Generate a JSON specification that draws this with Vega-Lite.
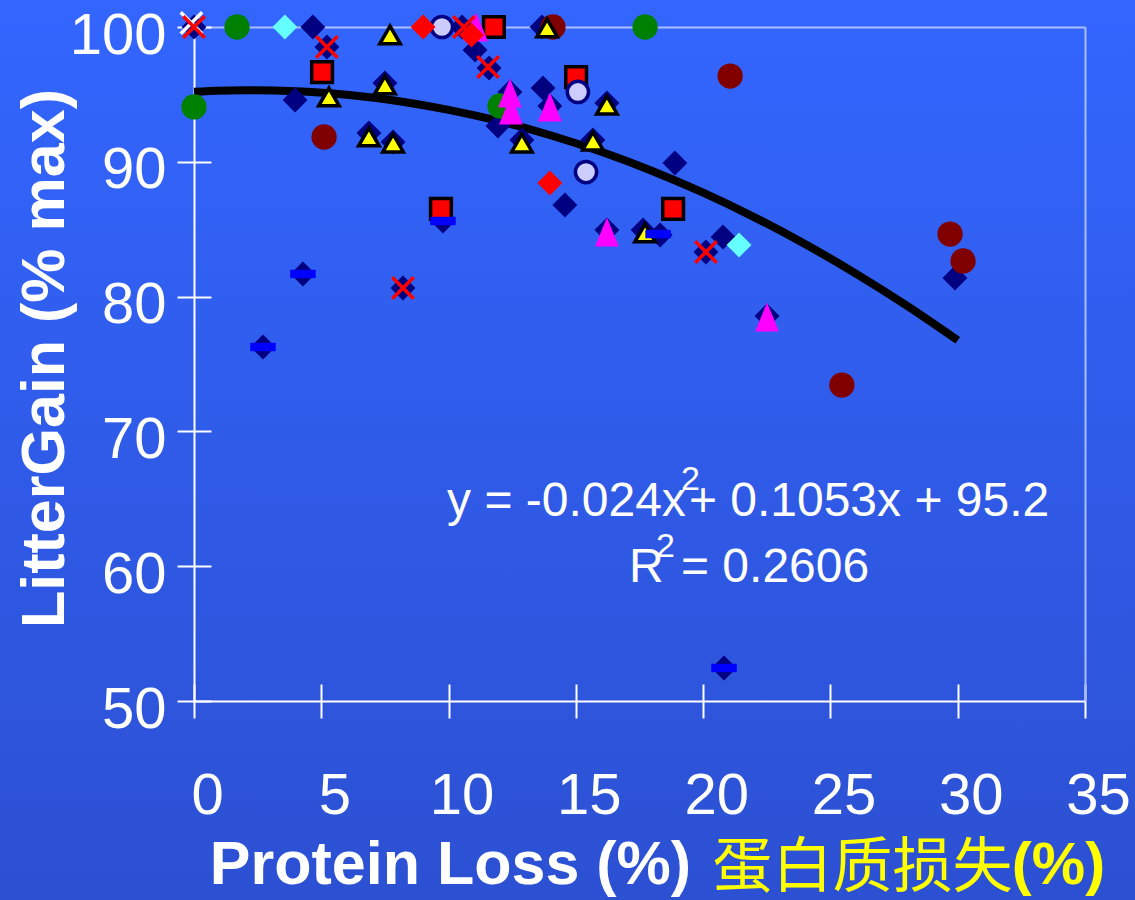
{
  "$schema": "https://vega.github.io/schema/vega-lite/v6.json",
  "width": 1135,
  "height": 900,
  "autosize": {"type": "none"},
  "padding": 0,
  "background": "#2F5BE8",
  "config": {
    "view": {
      "stroke": null,
      "fill": {"gradient": "linear", "x1": 0, "y1": 0, "x2": 0, "y2": 1,
        "stops": [{"offset": 0, "color": "#3366FF"}, {"offset": 1, "color": "#2C50D2"}]}
    }
  },
  "resolve": {"axis": {"x": "independent", "y": "independent"}},
  "layer": [
    {
      "data": {"values": [
        {"x": 0, "y": 95.2}, {"x": 2, "y": 95.31}, {"x": 4, "y": 95.24}, {"x": 6, "y": 94.97},
        {"x": 8, "y": 94.51}, {"x": 10, "y": 93.85}, {"x": 12, "y": 93.01}, {"x": 14, "y": 91.97},
        {"x": 16, "y": 90.74}, {"x": 18, "y": 89.32}, {"x": 20, "y": 87.71}, {"x": 22, "y": 85.9},
        {"x": 24, "y": 83.9}, {"x": 26, "y": 81.71}, {"x": 28, "y": 79.33}, {"x": 30, "y": 76.76}
      ]},
      "mark": {"type": "line", "color": "#000000", "strokeWidth": 8, "interpolate": "monotone", "strokeCap": "butt"},
      "encoding": {
        "x": {"field": "x", "type": "quantitative",
          "scale": {"domain": [0, 35], "range": [194, 1085], "nice": false, "zero": false},
          "axis": {"orient": "bottom", "offset": -199, "values": [0, 5, 10, 15, 20, 25, 30, 35],
            "domain": false, "ticks": true, "tickSize": -17, "tickColor": "#FFFFFF", "tickWidth": 2,
            "labels": false, "grid": false,
            "title": "蛋白质损失", "titleFont": "Noto Sans CJK SC", "titleFontSize": 60, "titleFontWeight": "normal",
            "titleColor": "#FFFF00", "titleX": 862, "titleY": 185, "titleAlign": "center", "titleBaseline": "alphabetic"}},
        "y": {"field": "y", "type": "quantitative",
          "scale": {"domain": [50, 100], "range": [701, 27], "nice": false, "zero": false},
          "axis": {"orient": "left", "offset": -194, "values": [50, 60, 70, 80, 90, 100],
            "domain": false, "ticks": true, "tickSize": -17, "tickColor": "#FFFFFF", "tickWidth": 2,
            "labels": false, "grid": false, "title": null}}
      }
    },
    {
      "data": {"values": [
        {"s": "navy", "x": 0, "y": 100}, {"s": "navy", "x": 4.67, "y": 100}, {"s": "navy", "x": 5.22, "y": 98.52},
        {"s": "navy", "x": 3.97, "y": 94.58}, {"s": "navy", "x": 7.5, "y": 95.85}, {"s": "navy", "x": 6.87, "y": 92.14},
        {"s": "navy", "x": 7.82, "y": 91.47}, {"s": "navy", "x": 10.53, "y": 100}, {"s": "navy", "x": 11.04, "y": 98.29},
        {"s": "navy", "x": 11.59, "y": 96.96}, {"s": "navy", "x": 11.94, "y": 92.66}, {"s": "navy", "x": 12.41, "y": 95.18},
        {"s": "navy", "x": 13.71, "y": 95.47}, {"s": "navy", "x": 13.98, "y": 94.14}, {"s": "navy", "x": 12.88, "y": 91.62},
        {"s": "navy", "x": 15.67, "y": 91.62}, {"s": "navy", "x": 14.57, "y": 86.8}, {"s": "navy", "x": 18.89, "y": 89.91},
        {"s": "navy", "x": 16.22, "y": 84.94}, {"s": "navy", "x": 17.64, "y": 84.94}, {"s": "navy", "x": 18.31, "y": 84.57},
        {"s": "navy", "x": 20.78, "y": 84.42}, {"s": "navy", "x": 20.11, "y": 83.31}, {"s": "navy", "x": 22.51, "y": 78.56},
        {"s": "navy", "x": 29.89, "y": 81.38}, {"s": "navy", "x": 2.71, "y": 76.26}, {"s": "navy", "x": 4.28, "y": 81.68},
        {"s": "navy", "x": 9.78, "y": 85.61}, {"s": "navy", "x": 20.82, "y": 52.45}, {"s": "navy", "x": 8.21, "y": 80.64},
        {"s": "navy", "x": 16.22, "y": 94.36}, {"s": "navy", "x": 13.67, "y": 100},
        {"s": "green", "x": 1.69, "y": 100}, {"s": "green", "x": 0, "y": 94.07}, {"s": "green", "x": 17.72, "y": 100},
        {"s": "green", "x": 12.02, "y": 94.14},
        {"s": "darkred", "x": 5.11, "y": 91.84}, {"s": "darkred", "x": 14.1, "y": 100}, {"s": "darkred", "x": 21.06, "y": 96.36},
        {"s": "darkred", "x": 29.7, "y": 84.64}, {"s": "darkred", "x": 30.21, "y": 82.64}, {"s": "darkred", "x": 25.45, "y": 73.44},
        {"s": "cyan", "x": 3.57, "y": 100}, {"s": "cyan", "x": 21.41, "y": 83.83},
        {"s": "square", "x": 5.03, "y": 96.66}, {"s": "square", "x": 11.78, "y": 100}, {"s": "square", "x": 15.01, "y": 96.29},
        {"s": "square", "x": 9.7, "y": 86.5}, {"s": "square", "x": 18.82, "y": 86.5},
        {"s": "yellow", "x": 5.3, "y": 94.81}, {"s": "yellow", "x": 7.7, "y": 99.41}, {"s": "yellow", "x": 7.5, "y": 95.7},
        {"s": "yellow", "x": 6.87, "y": 91.84}, {"s": "yellow", "x": 7.82, "y": 91.39}, {"s": "yellow", "x": 13.87, "y": 99.93},
        {"s": "yellow", "x": 16.22, "y": 94.21}, {"s": "yellow", "x": 12.88, "y": 91.39}, {"s": "yellow", "x": 15.67, "y": 91.54},
        {"s": "yellow", "x": 17.72, "y": 84.72},
        {"s": "lavender", "x": 9.74, "y": 100}, {"s": "lavender", "x": 15.08, "y": 95.18}, {"s": "lavender", "x": 15.4, "y": 89.24},
        {"s": "magenta", "x": 11.08, "y": 100}, {"s": "magenta", "x": 12.41, "y": 95.1}, {"s": "magenta", "x": 12.45, "y": 93.84},
        {"s": "magenta", "x": 13.98, "y": 94.07}, {"s": "magenta", "x": 16.22, "y": 84.79}, {"s": "magenta", "x": 22.51, "y": 78.49},
        {"s": "reddiam", "x": 9.0, "y": 100}, {"s": "reddiam", "x": 10.9, "y": 99.4}, {"s": "reddiam", "x": 13.98, "y": 88.43},
        {"s": "bar", "x": 2.71, "y": 76.26}, {"s": "bar", "x": 4.28, "y": 81.68}, {"s": "bar", "x": 9.78, "y": 85.61},
        {"s": "bar", "x": 18.23, "y": 84.64}, {"s": "bar", "x": 20.82, "y": 52.45},
        {"s": "whitex", "x": -0.1, "y": 100.3},
        {"s": "redx", "x": 0, "y": 100}, {"s": "redx", "x": 5.22, "y": 98.52}, {"s": "redx", "x": 11.55, "y": 97.03},
        {"s": "redx", "x": 8.21, "y": 80.64}, {"s": "redx", "x": 20.11, "y": 83.31}, {"s": "redx", "x": 10.6, "y": 100}
      ]},
      "mark": {"type": "point", "filled": true, "opacity": 1},
      "encoding": {
        "x": {"field": "x", "type": "quantitative",
          "scale": {"domain": [0, 35], "range": [194, 1085], "nice": false, "zero": false},
          "axis": {"orient": "bottom", "offset": -199, "values": [0, 5, 10, 15, 20, 25, 30, 35],
            "domain": true, "domainColor": "#FFFFFF", "domainWidth": 2,
            "ticks": true, "tickSize": 17, "tickColor": "#FFFFFF", "tickWidth": 2,
            "labelFont": "Liberation Sans", "labelFontSize": 58, "labelColor": "#FFFFFF",
            "labelPadding": 95, "labelBaseline": "alphabetic", "labelOffset": 13, "labelFlush": false, "labelOverlap": false,
            "grid": false,
            "title": "Protein Loss (%)", "titleFont": "Liberation Sans", "titleFontSize": 61, "titleFontWeight": "bold",
            "titleColor": "#FFFFFF", "titleX": 450, "titleY": 182, "titleAlign": "center", "titleBaseline": "alphabetic"}},
        "y": {"field": "y", "type": "quantitative",
          "scale": {"domain": [50, 100], "range": [701, 27], "nice": false, "zero": false},
          "axis": {"orient": "left", "offset": -194, "values": [50, 60, 70, 80, 90, 100],
            "domain": true, "domainColor": "#FFFFFF", "domainWidth": 2,
            "ticks": true, "tickSize": 17, "tickColor": "#FFFFFF", "tickWidth": 2,
            "labelFont": "Liberation Sans", "labelFontSize": 58, "labelColor": "#FFFFFF",
            "labelPadding": 11, "labelBaseline": "alphabetic", "labelOffset": 26, "labelAlign": "right",
            "labelFlush": false, "labelOverlap": false, "grid": false,
            "title": "LitterGain (% max)", "titleFont": "Liberation Sans", "titleFontSize": 61, "titleFontWeight": "bold",
            "titleColor": "#FFFFFF", "titleAngle": 270, "titleX": -131, "titleY": 358, "titleAlign": "center", "titleBaseline": "alphabetic"}},
        "shape": {"field": "s", "type": "nominal", "legend": null,
          "scale": {"domain": ["navy", "green", "darkred", "cyan", "square", "yellow", "lavender", "magenta", "reddiam", "bar", "whitex", "redx"],
            "range": ["diamond", "circle", "circle", "diamond", "square", "triangle-up", "circle",
              "M0,-1L0.82,1L-0.82,1Z", "diamond", "M-1,-0.33L1,-0.33L1,0.33L-1,0.33Z",
              "M-1,-1L1,1M1,-1L-1,1", "M-1,-1L1,1M1,-1L-1,1"]}},
        "fill": {"field": "s", "type": "nominal", "legend": null,
          "scale": {"domain": ["navy", "green", "darkred", "cyan", "square", "yellow", "lavender", "magenta", "reddiam", "bar", "whitex", "redx"],
            "range": ["#000080", "#008000", "#800000", "#66FFFF", "#FF0000", "#FFFF00", "#CCCCFF", "#FF00FF", "#FF0000", "#0000FF", "transparent", "transparent"]}},
        "stroke": {"field": "s", "type": "nominal", "legend": null,
          "scale": {"domain": ["navy", "green", "darkred", "cyan", "square", "yellow", "lavender", "magenta", "reddiam", "bar", "whitex", "redx"],
            "range": ["transparent", "transparent", "transparent", "transparent", "#000000", "#000000", "#000080", "transparent", "transparent", "transparent", "#FFFFFF", "#FF0000"]}},
        "size": {"condition": [
            {"test": "datum.s === 'navy' || datum.s === 'cyan' || datum.s === 'reddiam'", "value": 620},
            {"test": "datum.s === 'green' || datum.s === 'darkred'", "value": 640},
            {"test": "datum.s === 'square'", "value": 430},
            {"test": "datum.s === 'yellow'", "value": 420},
            {"test": "datum.s === 'lavender'", "value": 450},
            {"test": "datum.s === 'magenta'", "value": 840},
            {"test": "datum.s === 'bar'", "value": 650}
          ], "value": 460},
        "strokeWidth": {"condition": [
            {"test": "datum.s === 'square' || datum.s === 'yellow' || datum.s === 'lavender' || datum.s === 'whitex' || datum.s === 'redx'", "value": 3.5}
          ], "value": 0}
      }
    },
    {
      "data": {"values": [
        {"tx": 9.94, "ty": 63.72, "label": "y = -0.024x", "role": "main"},
        {"tx": 19.13, "ty": 65.65, "label": "2", "role": "sup"},
        {"tx": 19.44, "ty": 63.72, "label": "+ 0.1053x + 95.2", "role": "main"},
        {"tx": 17.09, "ty": 58.83, "label": "R", "role": "main"},
        {"tx": 18.15, "ty": 60.68, "label": "2", "role": "sup"},
        {"tx": 19.13, "ty": 58.83, "label": "= 0.2606", "role": "main"}
      ]},
      "mark": {"type": "text", "font": "Liberation Sans", "color": "#FFFFFF", "align": "left", "baseline": "alphabetic"},
      "encoding": {
        "x": {"field": "tx", "type": "quantitative",
          "scale": {"domain": [0, 35], "range": [194, 1085], "nice": false, "zero": false},
          "axis": {"orient": "top", "offset": -27, "domain": true, "domainColor": "#AABEFF", "domainWidth": 2,
            "ticks": false, "labels": false, "grid": false,
            "title": "(%)", "titleFont": "Liberation Sans", "titleFontSize": 60, "titleFontWeight": "bold",
            "titleColor": "#FFFF00", "titleX": 1058, "titleY": 856, "titleAlign": "center", "titleBaseline": "alphabetic"}},
        "y": {"field": "ty", "type": "quantitative",
          "scale": {"domain": [50, 100], "range": [701, 27], "nice": false, "zero": false},
          "axis": {"orient": "right", "offset": -50, "domain": true, "domainColor": "#AABEFF", "domainWidth": 2,
            "ticks": false, "labels": false, "grid": false, "title": null}},
        "text": {"field": "label", "type": "nominal"},
        "size": {"condition": {"test": "datum.role === 'sup'", "value": 34}, "value": 48}
      }
    }
  ]
}
